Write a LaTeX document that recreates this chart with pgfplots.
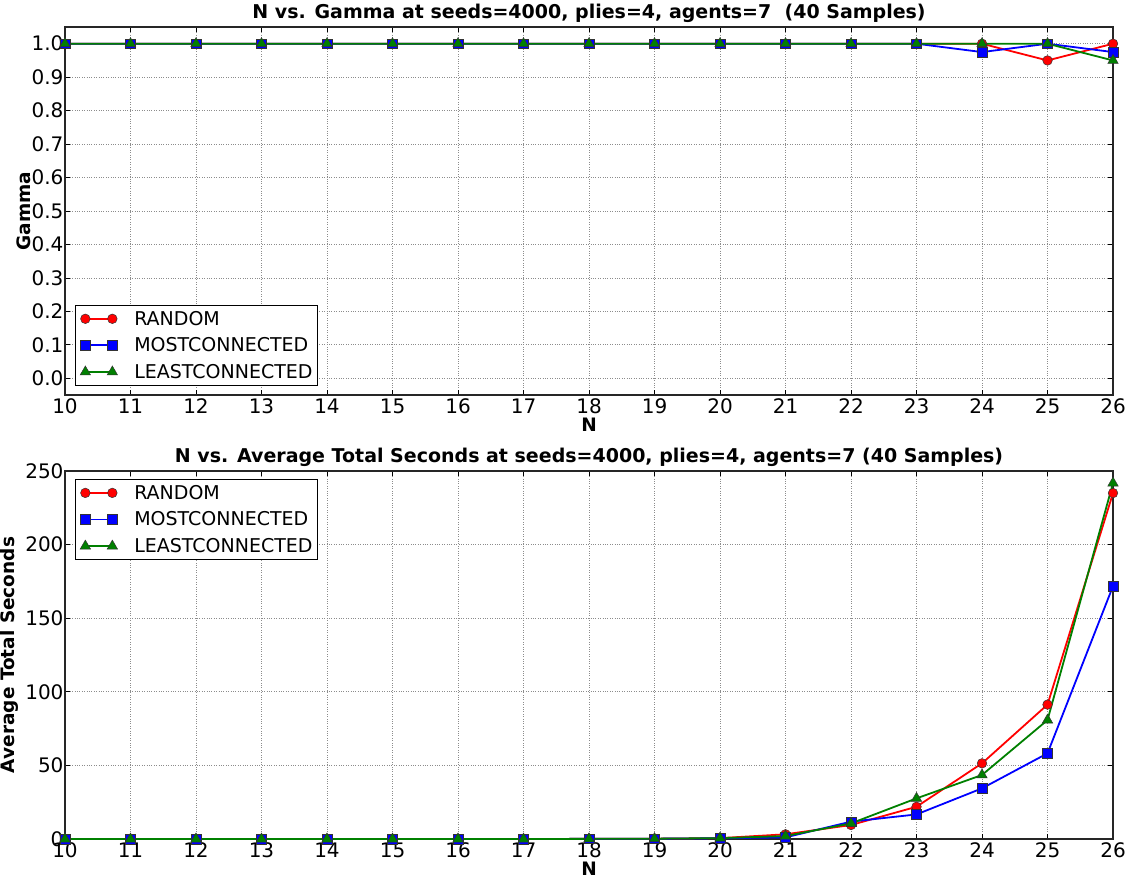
\documentclass[border=0pt]{standalone}
\usepackage{fontspec}
\setmainfont{DejaVu Sans}
\usepackage{pgfplots}
\pgfplotsset{compat=1.18}

\definecolor{mplgreen}{rgb}{0,0.5,0}

\pgfplotsset{
  mplstyle/.style={
    scale only axis, width=1048pt, height=368pt,
    xmin=10, xmax=26, xtick={10,11,...,26},
    grid=major,
    grid style={dotted, black!45, line width=0.7pt},
    axis line style={line width=1.1pt, black!85},
    tick style={black, line width=0.7pt}, major tick length=5pt,
    tick align=inside,
    ticklabel style={font=\fontsize{20}{22}\selectfont},
    /pgf/number format/assume math mode=true,
    xticklabel style={yshift=0pt},
    yticklabel style={xshift=2pt},
    label style={font=\bfseries\fontsize{18.5}{21}\selectfont},
    xlabel style={yshift=3pt},
    title style={font=\bfseries\fontsize{19}{21}\selectfont, yshift=-5pt},
    legend cell align=left,
    legend style={font=\fontsize{19}{21}\selectfont, draw=black, line width=1pt,
      inner xsep=3pt, inner ysep=3.5pt, row sep=7pt,
      nodes={inner ysep=2pt, inner xsep=2pt}},
    legend image code/.code={%
      \path (-6pt,0pt) (46pt,0pt);
      \draw[##1] plot coordinates {(0pt,0pt) (27pt,0pt)};},
  },
  rnd/.style={red, line width=1.8pt, mark=*, mark size=4.8pt,
    mark options={fill=red, draw=black!80, line width=0.5pt}},
  most/.style={blue, line width=1.8pt, mark=square*, mark size=4.8pt,
    mark options={fill=blue, draw=black!80, line width=0.5pt}},
  least/.style={mplgreen, line width=1.8pt, mark=triangle*, mark size=6pt,
    mark options={fill=mplgreen, draw=black!80, line width=0.5pt}},
}

\begin{document}
\begin{tikzpicture}[x=1pt,y=1pt]
\path[use as bounding box] (0,0) rectangle (1139,878);

% Gamma per N
\begin{axis}[mplstyle, at={(65pt,483pt)}, anchor=south west,
  ymin=-0.05, ymax=1.05,
  ytick={0,0.1,0.2,0.3,0.4,0.5,0.6,0.7,0.8,0.9,1.0},
  yticklabels={0.0,0.1,0.2,0.3,0.4,0.5,0.6,0.7,0.8,0.9,1.0},
  title={N vs. Gamma at seeds=4000, plies=4, agents=7\ \ (40 Samples)},
  xlabel={N}, ylabel={Gamma},
  ylabel style={yshift=-6pt},
  legend style={at={(0.0095,0.025)}, anchor=south west}]
\addplot[rnd] coordinates {(10,1.0) (11,1.0) (12,1.0) (13,1.0) (14,1.0) (15,1.0) (16,1.0) (17,1.0) (18,1.0) (19,1.0) (20,1.0) (21,1.0) (22,1.0) (23,1.0) (24,1.0) (25,0.95) (26,1.0)};
\addlegendentry{RANDOM}
\addplot[most] coordinates {(10,1.0) (11,1.0) (12,1.0) (13,1.0) (14,1.0) (15,1.0) (16,1.0) (17,1.0) (18,1.0) (19,1.0) (20,1.0) (21,1.0) (22,1.0) (23,1.0) (24,0.975) (25,1.0) (26,0.975)};
\addlegendentry{MOSTCONNECTED}
\addplot[least] coordinates {(10,1.0) (11,1.0) (12,1.0) (13,1.0) (14,1.0) (15,1.0) (16,1.0) (17,1.0) (18,1.0) (19,1.0) (20,1.0) (21,1.0) (22,1.0) (23,1.0) (24,1.0) (25,1.0) (26,0.95)};
\addlegendentry{LEASTCONNECTED}
\end{axis}

% Average total seconds per N
\begin{axis}[mplstyle, at={(65pt,39pt)}, anchor=south west,
  ymin=0, ymax=250, ytick={0,50,100,150,200,250},
  title={N vs. Average Total Seconds at seeds=4000, plies=4, agents=7 (40 Samples)},
  xlabel={N}, ylabel={Average Total Seconds},
  legend style={at={(0.0095,0.978)}, anchor=north west}]
\addplot[rnd] coordinates {(10,0.0) (11,0.0) (12,0.0) (13,0.0) (14,0.0) (15,0.0) (16,0.0) (17,0.0) (18,0.1) (19,0.2) (20,0.6) (21,3.2) (22,9.5) (23,21.9) (24,51.4) (25,91.3) (26,235.0)};
\addlegendentry{RANDOM}
\addplot[most] coordinates {(10,0.0) (11,0.0) (12,0.0) (13,0.0) (14,0.0) (15,0.0) (16,0.0) (17,0.0) (18,0.1) (19,0.2) (20,0.5) (21,1.1) (22,11.8) (23,16.7) (24,34.4) (25,58.2) (26,171.8)};
\addlegendentry{MOSTCONNECTED}
\addplot[least] coordinates {(10,0.0) (11,0.0) (12,0.0) (13,0.0) (14,0.0) (15,0.0) (16,0.0) (17,0.0) (18,0.1) (19,0.2) (20,0.6) (21,2.0) (22,10.6) (23,27.6) (24,43.5) (25,80.8) (26,241.8)};
\addlegendentry{LEASTCONNECTED}
\end{axis}
\end{tikzpicture}
\end{document}
